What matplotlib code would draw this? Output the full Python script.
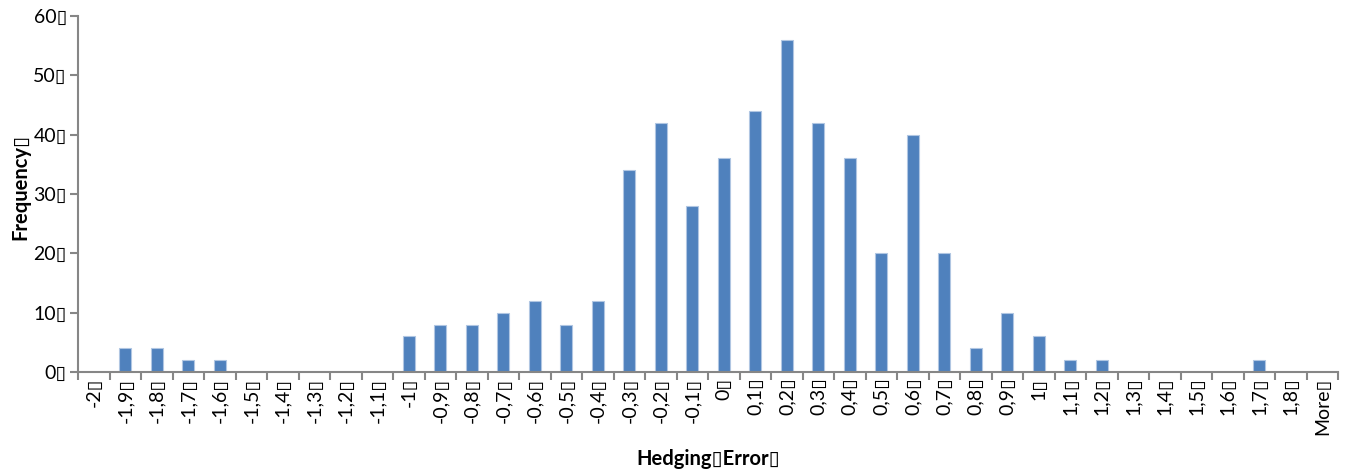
import matplotlib
matplotlib.use("Agg")
import matplotlib.pyplot as plt
import numpy as np

plt.rcParams['font.family'] = ['Lato', 'DejaVu Sans']

BOX = "\u25AF"

categories = ["-2", "-1,9", "-1,8", "-1,7", "-1,6", "-1,5", "-1,4", "-1,3", "-1,2", "-1,1",
              "-1", "-0,9", "-0,8", "-0,7", "-0,6", "-0,5", "-0,4", "-0,3", "-0,2", "-0,1",
              "0", "0,1", "0,2", "0,3", "0,4", "0,5", "0,6", "0,7", "0,8", "0,9",
              "1", "1,1", "1,2", "1,3", "1,4", "1,5", "1,6", "1,7", "1,8", "More"]
frequency = [0, 4, 4, 2, 2, 0, 0, 0, 0, 0,
             6, 8, 8, 10, 12, 8, 12, 34, 42, 28,
             36, 44, 56, 42, 36, 20, 40, 20, 4, 10,
             6, 2, 2, 0, 0, 0, 0, 2, 0, 0]
y_ticks = [0, 10, 20, 30, 40, 50, 60]

fig = plt.figure(figsize=(13.5, 4.69), dpi=100)
ax = fig.add_axes([78/1350, 97/469, 1260/1350, 356/469])

x = np.arange(len(categories))
ax.bar(x, frequency, width=0.38, color="#4F81BD", edgecolor="#B0C6E2", linewidth=0.8)

ax.set_xlim(-0.5, len(categories) - 0.5)
ax.set_ylim(0, 60)

spine_col = "#868686"
for s in ["top", "right"]:
    ax.spines[s].set_visible(False)
for s in ["left", "bottom"]:
    ax.spines[s].set_color(spine_col)
    ax.spines[s].set_linewidth(1.5)

ax.set_yticks(y_ticks)
ax.set_yticklabels([f"{v}{BOX}" for v in y_ticks])
ax.tick_params(axis="y", direction="out", length=6, width=1.5, color=spine_col,
               labelsize=14, pad=2, labelcolor="#000000")

ax.set_xticks(x)
ax.set_xticklabels([f"{c}{BOX}" for c in categories], rotation=90, va="top", ha="center")
ax.tick_params(axis="x", which="major", length=0, labelsize=14, pad=4, labelcolor="#000000")
ax.set_xticks(np.arange(len(categories) + 1) - 0.5, minor=True)
ax.tick_params(axis="x", which="minor", direction="out", length=6, width=1.5, color=spine_col)

ax.set_ylabel(f"Frequency{BOX}", fontsize=14.5, fontweight="bold", va="center")
ax.yaxis.set_label_coords(-58/1260, 0.52)
ax.set_xlabel(f"Hedging{BOX}Error{BOX}", fontsize=14.5, fontweight="bold", va="center")
ax.xaxis.set_label_coords(0.5, -87/356)

fig.savefig("out.png", dpi=100)
